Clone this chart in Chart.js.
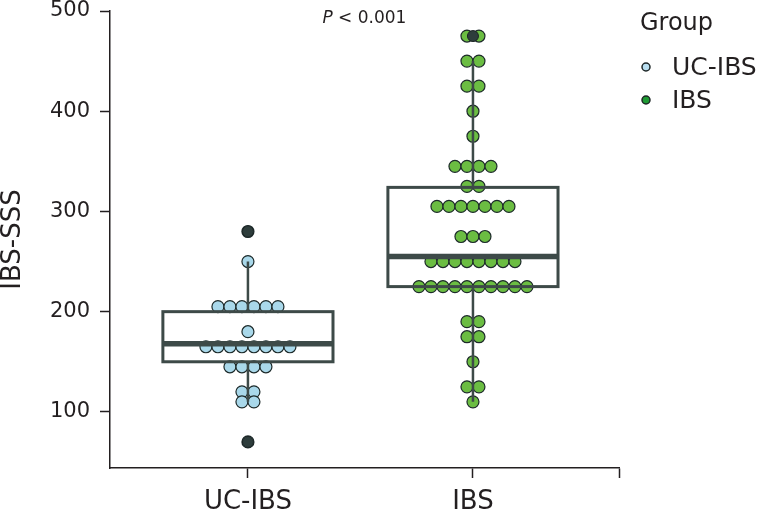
<!DOCTYPE html>
<html>
<head>
<meta charset="utf-8">
<script src="https://cdn.jsdelivr.net/npm/chart.js@4.4.1/dist/chart.umd.min.js"></script>
<style>
  html, body { margin: 0; padding: 0; background: #fff; }
  #wrap { width: 766px; height: 509px; position: relative; }
</style>
</head>
<body>
<div id="wrap"><canvas id="c" width="766" height="509"></canvas></div>
<script>
// ---------- data ----------
const categories = ['UC-IBS', 'IBS'];
const ucIbsValues = [280, 250, 205, 205, 205, 205, 205, 205, 180,
  165, 165, 165, 165, 165, 165, 165, 165, 145, 145, 145, 145, 120, 120, 110, 110, 70];
const ibsValues = [475, 475, 450, 450, 425, 425, 400, 375, 345, 345, 345, 345, 325, 325,
  305, 305, 305, 305, 305, 305, 305, 275, 275, 275,
  250, 250, 250, 250, 250, 250, 250, 250,
  225, 225, 225, 225, 225, 225, 225, 225, 225, 225,
  190, 190, 175, 175, 150, 125, 125, 110];
const boxQ1 = [150, 225];
const boxMedian = [168, 255];
const boxQ3 = [200, 324];
const whiskerLow = [110, 110];
const whiskerHigh = [250, 450];
const outliersUcIbs = [280, 70];
const outliersIbs = [475];
const yTicks = [100, 200, 300, 400, 500];
const pText = '< 0.001';

// ---------- styling / layout ----------
const FONT = "'DejaVu Sans', sans-serif";
const INK = '#231f20';
const BOX = '#3d4a48';
const COL_UC = '#a9d8ea';
const COL_IBS = '#6bbd42';
const LEG_UC = '#b8def0';
const LEG_IBS = '#1f9b34';
const X_MIN = 0.387, X_MAX = 2.649;
const STEP = 12 / 225; // dot spacing in x units

function swarm(values, center) {
  const counts = {};
  values.forEach(v => counts[v] = (counts[v] || 0) + 1);
  const seen = {};
  return values.map(v => {
    const n = counts[v];
    const i = seen[v] = (seen[v] === undefined ? 0 : seen[v] + 1);
    return { x: center + (i - (n - 1) / 2) * STEP, y: v };
  });
}

const boxPlugin = {
  id: 'boxes',
  afterDatasetDraw(chart, args) {
    const g = args.index;
    if (g > 1) return;
    const ctx = chart.ctx, xs = chart.scales.x, ys = chart.scales.y;
    const cx = xs.getPixelForValue(g + 1);
    const half = 0.378 * (xs.getPixelForValue(1) - xs.getPixelForValue(0));
    ctx.save();
    ctx.strokeStyle = BOX;
    // whiskers
    ctx.lineWidth = 2.5;
    ctx.beginPath();
    ctx.moveTo(cx, ys.getPixelForValue(boxQ3[g]));
    ctx.lineTo(cx, ys.getPixelForValue(whiskerHigh[g]));
    ctx.moveTo(cx, ys.getPixelForValue(boxQ1[g]));
    ctx.lineTo(cx, ys.getPixelForValue(whiskerLow[g]));
    ctx.stroke();
    // box
    ctx.lineWidth = 3;
    const top = ys.getPixelForValue(boxQ3[g]), bot = ys.getPixelForValue(boxQ1[g]);
    ctx.strokeRect(cx - half, top, 2 * half, bot - top);
    // median
    ctx.lineWidth = 5.5;
    ctx.beginPath();
    const my = ys.getPixelForValue(boxMedian[g]);
    ctx.moveTo(cx - half, my);
    ctx.lineTo(cx + half, my);
    ctx.stroke();
    ctx.restore();
  },
  afterDraw(chart) {
    const ctx = chart.ctx, xs = chart.scales.x;
    ctx.save();
    ctx.fillStyle = INK;
    ctx.textBaseline = 'middle';
    // p value
    const pxMid = xs.getPixelForValue(1.5) + 4;
    ctx.font = 'italic 17px ' + FONT;
    const wP = ctx.measureText('P ').width;
    ctx.font = '17px ' + FONT;
    const wR = ctx.measureText(pText).width;
    let x0 = pxMid - (wP + wR) / 2;
    ctx.font = 'italic 17px ' + FONT;
    ctx.fillText('P', x0, 19);
    ctx.font = '17px ' + FONT;
    ctx.fillText(pText, x0 + wP, 19);
    // legend
    ctx.font = '24px ' + FONT;
    ctx.fillText('Group', 640, 24);
    const items = [[categories[0], LEG_UC, 67], [categories[1], LEG_IBS, 100]];
    ctx.font = '25px ' + FONT;
    items.forEach(([label, col, y]) => {
      ctx.beginPath();
      ctx.arc(646, y, 4, 0, Math.PI * 2);
      ctx.fillStyle = col;
      ctx.fill();
      ctx.lineWidth = 1.5;
      ctx.strokeStyle = '#1e2626';
      ctx.stroke();
      ctx.fillStyle = INK;
      ctx.fillText(label, 672, y + 1);
    });
    ctx.restore();
  }
};

const dotStyle = (col) => ({
  backgroundColor: col,
  borderColor: '#1d2a2a',
  borderWidth: 1.2,
  pointRadius: 6,
  pointHoverRadius: 6
});

new Chart(document.getElementById('c'), {
  type: 'scatter',
  data: {
    datasets: [
      Object.assign({ label: categories[0], data: swarm(ucIbsValues, 1), order: 2 }, dotStyle(COL_UC)),
      Object.assign({ label: categories[1], data: swarm(ibsValues, 2), order: 1 }, dotStyle(COL_IBS)),
      {
        label: 'outliers',
        data: outliersUcIbs.map(v => ({ x: 1, y: v })).concat(outliersIbs.map(v => ({ x: 2, y: v }))),
        order: 0,
        backgroundColor: '#2e3d3c',
        borderColor: '#1a2222',
        borderWidth: 1,
        pointRadius: 5.5
      }
    ]
  },
  options: {
    responsive: false,
    animation: false,
    events: [],
    layout: { padding: { top: 11, right: 147, left: 0, bottom: 0 } },
    plugins: { legend: { display: false }, tooltip: { enabled: false } },
    scales: {
      x: {
        type: 'linear',
        min: X_MIN, max: X_MAX,
        afterFit: (s) => { s.height = 41; s.paddingLeft = 0; s.paddingRight = 0; },
        afterBuildTicks: (s) => { s.ticks = [1, 2, X_MAX].map(v => ({ value: v })); },
        grid: { drawOnChartArea: false, drawTicks: true, tickLength: 10, color: INK, tickWidth: 1.5 },
        border: { display: true, color: INK, width: 1.5 },
        ticks: {
          autoSkip: false, maxRotation: 0, padding: 9,
          color: INK, font: { family: FONT, size: 26 },
          callback: (v) => categories[Math.round(v) - 1] && Math.abs(v - Math.round(v)) < 1e-6 ? categories[Math.round(v) - 1] : ''
        }
      },
      y: {
        min: 44, max: 500,
        afterFit: (s) => { s.width = 110; s.paddingTop = 0; s.paddingBottom = 0; },
        afterBuildTicks: (s) => { s.ticks = yTicks.map(v => ({ value: v })); },
        grid: { drawOnChartArea: false, drawTicks: true, tickLength: 10, color: INK, tickWidth: 1.5 },
        border: { display: true, color: INK, width: 1.5 },
        ticks: { padding: 10, color: INK, font: { family: FONT, size: 21 } },
        title: { display: true, text: 'IBS-SSS', color: INK, font: { family: FONT, size: 26, lineHeight: 1 }, padding: { top: 0, bottom: 0 } }
      }
    }
  },
  plugins: [boxPlugin]
});
</script>
</body>
</html>
